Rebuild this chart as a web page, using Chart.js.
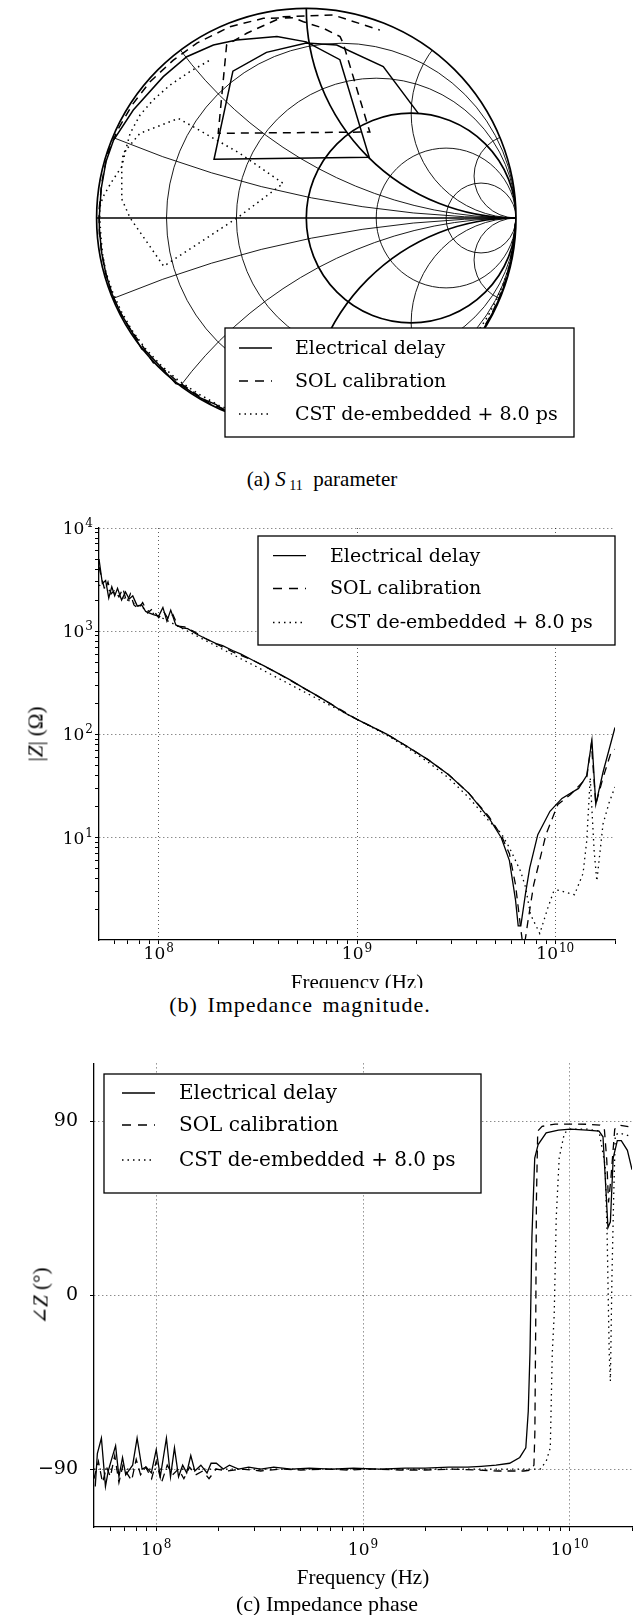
<!DOCTYPE html>
<html>
<head>
<meta charset="utf-8">
<script src="https://cdn.jsdelivr.net/npm/chart.js@4.4.1/dist/chart.umd.min.js"></script>
<style>
    body { margin: 0; background: #fff; }
    #page {
        position: relative; width: 638px; height: 1615px; overflow: hidden; background: #fff;
        font-family: 'Liberation Serif', 'DejaVu Serif', serif; color: #000;
    }
    canvas { position: absolute; left: 0; }
    .txt { position: absolute; white-space: nowrap; transform: translate(-50%, -50%); line-height: 1; }
    .cap { font-size: 22px; }
    .axt { font-size: 21px; }
    .rot { transform: translate(-50%, -50%) rotate(-90deg); }
    #clipB { position: absolute; left: 0; top: 960px; width: 638px; height: 28px; overflow: hidden; }
</style>
</head>
<body>
<div id="page">
    <canvas id="smith" width="638" height="460" style="top:0"></canvas>
    <canvas id="mag" width="638" height="488" style="top:500px"></canvas>
    <canvas id="phase" width="638" height="532" style="top:1040px"></canvas>

    <div class="txt cap" style="left:322px; top:479px; font-size:21px">(a) <i>S</i><span style="font-size:14px; position:relative; top:4px"> 11</span>&nbsp; parameter</div>

    <div class="txt axt rot" style="left:36px; top:734px">|<i>Z</i>| (Ω)</div>
    <div id="clipB"><div class="txt axt" style="left:357px; top:22px">Frequency (Hz)</div></div>
    <div class="txt cap" style="left:300px; top:1005px; word-spacing:3px; letter-spacing:1px">(b) Impedance magnitude.</div>

    <div class="txt axt rot" style="left:41px; top:1296px">∠<i>Z</i> (°)</div>
    <div class="txt axt" style="left:363px; top:1577px">Frequency (Hz)</div>
    <div class="txt cap" style="left:327px; top:1604px">(c) Impedance phase</div>
</div>

<script>
// ---- Data ----
const seriesNames = ['Electrical delay', 'SOL calibration', 'CST de-embedded + 8.0 ps'];

// Smith chart grid (normalised resistance / reactance values)
const smithResistances = [0.2, 0.5, 1, 2, 5];
const smithReactances = [0.2, 0.5, 1, 2, 5];

// S11 traces as reflection coefficient (real, imaginary)
const smithDelayRe = [0.998, 0.994, 0.996, 0.988, 0.991, 0.978, 0.958, 0.932, 0.895, 0.845, 0.785, 0.705, 0.605, 0.485, 0.345, 0.185, 0.02, -0.14, -0.29, -0.4, -0.43, -0.505, -0.6, -0.622, -0.685, -0.76, -0.785, -0.83, -0.885, -0.925, -0.955, -0.975, -0.985, -0.987,
    -0.978, -0.955, -0.919, -0.825, -0.682, -0.57, -0.443, -0.332, -0.14, 0.0, 0.16, 0.3, -0.44, -0.35, -0.19, 0.0, 0.145, 0.367, 0.534];
const smithDelayIm = [-0.02, -0.075, -0.045, -0.13, -0.1, -0.2, -0.28, -0.355, -0.44, -0.53, -0.615, -0.705, -0.79, -0.87, -0.935, -0.98, -0.995, -0.985, -0.952, -0.912, -0.89, -0.858, -0.795, -0.79, -0.72, -0.64, -0.625, -0.545, -0.455, -0.365, -0.27, -0.17, -0.075, 0.01,
    0.14, 0.27, 0.372, 0.515, 0.674, 0.769, 0.825, 0.849, 0.865, 0.84, 0.755, 0.29, 0.28, 0.7, 0.79, 0.835, 0.825, 0.722, 0.499];

const smithSolRe = [0.997, 0.99, 0.995, 0.983, 0.987, 0.972, 0.95, 0.922, 0.883, 0.83, 0.765, 0.685, 0.585, 0.465, 0.325, 0.165, 0.0, -0.16, -0.31, -0.42, -0.44, -0.525, -0.62, -0.705, -0.73, -0.775, -0.84, -0.893, -0.932, -0.96, -0.978, -0.987, -0.989,
    -0.975, -0.95, -0.9, -0.83, -0.745, -0.634, -0.52, -0.364, -0.205, -0.06, -0.014, 0.081, 0.161, 0.176, 0.288, 0.303, -0.42, -0.38, -0.284, -0.11, 0.129, 0.351];
const smithSolIm = [-0.025, -0.09, -0.055, -0.145, -0.115, -0.215, -0.3, -0.375, -0.46, -0.55, -0.635, -0.72, -0.8, -0.875, -0.935, -0.975, -0.99, -0.978, -0.943, -0.9, -0.9, -0.84, -0.775, -0.7, -0.69, -0.62, -0.53, -0.44, -0.35, -0.25, -0.15, -0.05, 0.03,
    0.17, 0.3, 0.42, 0.54, 0.65, 0.753, 0.835, 0.912, 0.952, 0.955, 0.936, 0.905, 0.865, 0.833, 0.459, 0.41, 0.404, 0.825, 0.881, 0.96, 0.968, 0.896];

const smithCstRe = [0.996, 0.992, 0.985, 0.97, 0.945, 0.91, 0.865, 0.81, 0.74, 0.655, 0.555, 0.44, 0.31, 0.165, 0.01, -0.15, -0.3, -0.415, -0.515, -0.61, -0.695, -0.77, -0.835, -0.885, -0.925, -0.955, -0.972, -0.98, -0.985,
    -0.985, -0.97, -0.93, -0.88, -0.873, -0.793, -0.713, -0.61, -0.46, -0.32, -0.11, -0.33, -0.68, -0.84, -0.88, -0.88, -0.857, -0.84, -0.793, -0.73, -0.65, -0.555, -0.459];
const smithCstIm = [-0.03, -0.08, -0.14, -0.22, -0.3, -0.385, -0.47, -0.555, -0.64, -0.725, -0.805, -0.875, -0.93, -0.97, -0.985, -0.975, -0.94, -0.895, -0.838, -0.775, -0.7, -0.62, -0.53, -0.44, -0.35, -0.26, -0.17, -0.08, 0.0,
    0.05, 0.1, 0.17, 0.245, 0.309, 0.404, 0.435, 0.475, 0.39, 0.31, 0.165, 0.0, -0.23, 0.0, 0.09, 0.245, 0.34, 0.404, 0.491, 0.563, 0.634, 0.698, 0.753];

// Impedance magnitude |Z| (ohm) vs frequency (Hz)
const magFreqDelay = [5.0e7, 5.2e7, 5.4e7, 5.6e7, 5.8e7, 6.0e7, 6.2e7, 6.5e7, 6.8e7, 7.1e7, 7.4e7, 7.8e7, 8.2e7, 8.6e7, 9.0e7, 9.4e7, 1.0e8, 1.05e8, 1.1e8, 1.15e8, 1.22e8, 1.31e8, 1.4e8, 1.55e8, 1.7e8, 1.95e8, 2.1e8, 2.36e8, 2.6e8, 3.0e8, 3.4e8, 4.0e8, 4.6e8, 5.5e8, 6.3e8, 7.3e8, 8.6e8,
    1.0e9, 1.42e9, 1.8e9, 2.28e9, 2.89e9, 3.66e9, 4.63e9, 5.34e9, 5.87e9, 6.3e9, 6.5e9, 6.7e9, 7.08e9, 7.43e9, 8.16e9, 9.4e9, 1.08e10, 1.31e10, 1.44e10, 1.53e10, 1.6e10, 1.74e10, 2.0e10];
const magDelay = [5000, 2900, 3100, 2100, 2700, 2200, 2600, 2000, 2400, 2050, 2200, 1750, 1800, 1550, 1500, 1450, 1400, 1700, 1250, 1600, 1150, 1080, 1060, 940, 860, 760, 725, 650, 600, 520, 462, 390, 338, 275, 238, 200, 163,
    140, 100, 76, 57, 41, 27, 15.5, 10, 6, 2.5, 1.4, 1.4, 2.9, 5.1, 10.7, 18, 24, 30, 40, 88, 21, 43, 117];

const magFreqSol = [5.0e7, 5.15e7, 5.35e7, 5.55e7, 5.75e7, 6.0e7, 6.3e7, 6.6e7, 6.9e7, 7.2e7, 7.5e7, 7.9e7, 8.3e7, 8.8e7, 9.3e7, 1.0e8, 1.06e8, 1.12e8, 1.18e8, 1.25e8, 1.35e8, 1.5e8, 1.7e8, 2.0e8, 2.5e8, 3.0e8, 4.0e8, 5.5e8, 7.3e8,
    1.0e9, 1.42e9, 1.8e9, 2.28e9, 2.89e9, 3.66e9, 4.63e9, 5.34e9, 5.87e9, 6.3e9, 6.7e9, 6.92e9, 7.26e9, 7.78e9, 8.97e9, 1.03e10, 1.19e10, 1.44e10, 1.52e10, 1.6e10, 1.74e10, 1.91e10, 2.0e10];
const magSol = [4200, 3300, 2500, 3000, 2300, 2500, 2150, 2600, 1900, 2300, 1800, 1650, 1900, 1500, 1650, 1350, 1550, 1300, 1450, 1120, 1100, 1000, 860, 735, 600, 520, 390, 275, 200,
    140, 100, 76, 57, 41, 27, 16, 10.5, 7, 3.5, 1.3, 0.8, 1.5, 3.5, 10.7, 21, 26, 38, 82, 21, 38, 67, 72];

const magFreqCst = [5.0e7, 7.0e7, 1.0e8, 1.4e8, 2.0e8, 3.0e8, 5.0e8, 7.0e8, 1.0e9, 1.42e9, 1.8e9, 2.28e9, 2.89e9, 3.66e9, 4.63e9, 5.34e9, 5.87e9, 6.69e9, 7.08e9, 7.5e9, 8.35e9, 9.18e9, 9.8e9,
    1.03e10, 1.25e10, 1.38e10, 1.44e10, 1.5e10, 1.57e10, 1.62e10, 1.74e10, 1.87e10, 2.0e10];
const magCst = [2800, 2000, 1400, 1000, 700, 470, 280, 200, 140, 98, 74, 54, 38, 24.5, 14.5, 11, 8, 4.7, 3.3, 1.8, 1.18, 2.1, 3.0,
    3.1, 2.8, 4.5, 9.3, 38, 7.4, 3.8, 13.5, 22, 31];

// Impedance phase (degrees) vs frequency (Hz)
const phaseFreqDelay = [5.07e7, 5.19e7, 5.43e7, 5.68e7, 5.86e7, 6.08e7, 6.36e7, 6.6e7, 6.87e7, 7.12e7, 7.45e7, 7.69e7, 8.08e7, 8.54e7, 8.93e7, 9.47e7, 1.0e8, 1.046e8, 1.12e8, 1.172e8, 1.225e8, 1.282e8, 1.342e8, 1.404e8, 1.469e8, 1.537e8, 1.644e8, 1.76e8, 1.842e8, 1.953e8,
    2.11e8, 2.26e8, 2.5e8, 2.8e8, 3.2e8, 3.7e8, 4.5e8, 5.5e8, 7.0e8, 9.0e8, 1.2e9, 1.6e9, 2.0e9, 2.6e9, 3.2e9, 3.73e9, 4.4e9, 5.12e9, 5.73e9, 6.13e9, 6.3e9, 6.42e9, 6.56e9, 6.77e9, 7.03e9, 7.69e9, 8.81e9,
    1.009e10, 1.21e10, 1.385e10, 1.448e10, 1.495e10, 1.53e10, 1.572e10, 1.622e10, 1.698e10, 1.775e10, 1.9e10, 2.0e10];
const phaseDelay = [-99, -82, -74, -99, -91, -85, -78, -94, -84, -93, -90, -88, -74, -90, -89, -92, -80, -94, -74, -94, -79, -94, -88, -92, -83, -91, -88, -92, -87, -87,
    -90, -88, -90, -89, -90, -89, -90, -89.5, -90, -89.5, -90, -89.5, -89.5, -89, -89, -88.6, -88, -87, -84, -79, -60, -30, 30, 71, 78, 84, 85.5,
    86, 85.5, 85, 82, 55, 35, 38, 71, 80, 80, 75, 65];

const phaseFreqSol = [5.0e7, 5.25e7, 5.5e7, 5.75e7, 6.0e7, 6.3e7, 6.6e7, 6.9e7, 7.2e7, 7.6e7, 8.0e7, 8.4e7, 8.9e7, 9.5e7, 1.0e8, 1.06e8, 1.13e8, 1.2e8, 1.28e8, 1.36e8, 1.45e8, 1.55e8, 1.68e8, 1.8e8, 1.95e8,
    2.2e8, 2.6e8, 3.2e8, 4.0e8, 5.0e8, 6.5e8, 8.5e8, 1.1e9, 1.5e9, 2.0e9, 2.7e9, 3.5e9, 4.5e9, 5.3e9, 6.0e9, 6.5e9, 6.71e9, 6.78e9, 6.85e9, 6.9e9, 7.0e9, 7.35e9, 8.5e9,
    1.0e10, 1.2e10, 1.4e10, 1.47e10, 1.51e10, 1.54e10, 1.58e10, 1.65e10, 1.75e10, 2.0e10];
const phaseSol = [-95, -86, -97, -89, -94, -83, -97, -88, -92, -96, -85, -93, -89, -95, -86, -97, -88, -93, -90, -95, -89, -93, -91, -95, -90,
    -91, -90, -91, -90, -90.5, -90, -90.5, -90, -90.5, -90.5, -90, -90.5, -91, -91, -91, -90.5, -88, -71, -10, 50, 85, 87.4, 88.6,
    88.6, 88.5, 88, 86, 70, 48, 60, 86, 88, 87];

const phaseFreqCst = [5.0e7, 1.0e8, 5.0e8, 1.0e9, 3.0e9, 6.0e9, 7.2e9, 7.69e9, 8.05e9, 8.23e9, 8.41e9, 8.6e9, 8.89e9, 9.42e9,
    1.009e10, 1.21e10, 1.385e10, 1.483e10, 1.517e10, 1.552e10, 1.572e10, 1.6e10, 1.63e10, 1.66e10, 1.738e10, 2.0e10];
const phaseCst = [-90, -90, -90, -90, -90, -90, -90, -86, -79, -30, -10, 40, 71, 84,
    86, 86, 85, 67, 30, -30, -44.5, 10, 50, 83, 84, 82];

// Axis ticks and labels (log axes are labelled 10^exponent)
const freqTicks = [1e8, 1e9, 1e10];
const freqTickExp = ['8', '9', '10'];
const magTicks = [10, 100, 1000, 10000];
const magTickExp = ['1', '2', '3', '4'];
const phaseTicks = [-90, 0, 90];
const phaseTickLabels = ['−90', '0', '90'];

// ---- Styles ----
const traceDash = [[], [8, 6], [1.5, 4]];
const TICK_FONT = "'DejaVu Serif', serif";
const LEGEND_FONT = "'DejaVu Serif', serif";

function zip(xs, ys) {
    const n = Math.min(xs.length, ys.length);
    const out = [];
    for (let i = 0; i < n; i++) out.push({ x: xs[i], y: ys[i] });
    return out;
}

function trace(points, i, width) {
    return {
        data: points,
        showLine: true,
        pointRadius: 0,
        borderColor: '#000',
        borderWidth: width,
        borderDash: traceDash[i],
        fill: false,
        tension: 0
    };
}

// legend box drawn inside the plot, in canvas coordinates
function boxLegend(box) {
    return {
        id: 'boxLegend',
        afterDraw(chart) {
            const ctx = chart.ctx;
            ctx.save();
            ctx.fillStyle = '#fff';
            ctx.fillRect(box.x, box.y, box.w, box.h);
            ctx.strokeStyle = '#000';
            ctx.lineWidth = 1.3;
            ctx.strokeRect(box.x, box.y, box.w, box.h);
            ctx.font = box.size + 'px ' + LEGEND_FONT;
            ctx.textBaseline = 'middle';
            ctx.fillStyle = '#000';
            seriesNames.forEach((name, i) => {
                const cy = box.y + box.rows[i];
                ctx.setLineDash(i === 1 ? [9, 7] : traceDash[i]);
                ctx.lineWidth = 1.4;
                ctx.beginPath();
                ctx.moveTo(box.x + box.l1, cy);
                ctx.lineTo(box.x + box.l2, cy);
                ctx.stroke();
                ctx.setLineDash([]);
                ctx.fillText(name, box.x + box.tx, cy + 1);
            });
            ctx.restore();
        }
    };
}

// "10" with a raised exponent, placed at the scale's tick positions
function powerLabels(scaleId, ticks, exps, place) {
    return {
        id: 'powerLabels_' + scaleId,
        afterDraw(chart) {
            const s = chart.scales[scaleId];
            const ctx = chart.ctx;
            ctx.save();
            ctx.fillStyle = '#000';
            ctx.textBaseline = 'alphabetic';
            ctx.textAlign = 'left';
            ticks.forEach((v, i) => {
                const p = s.getPixelForValue(v);
                ctx.font = '17px ' + TICK_FONT;
                const wb = ctx.measureText('10').width;
                ctx.font = '12px ' + TICK_FONT;
                const we = ctx.measureText(exps[i]).width;
                const w = wb + 1 + we;
                let left, mid;
                if (place.horizontal) { left = p - w / 2; mid = place.y; }
                else { left = place.right - w; mid = p; }
                ctx.font = '17px ' + TICK_FONT;
                ctx.fillText('10', left, mid + 6);
                ctx.font = '12px ' + TICK_FONT;
                ctx.fillText(exps[i], left + wb + 1, mid - 1);
            });
            ctx.restore();
        }
    };
}

// Smith chart grid: constant resistance circles and reactance arcs
const smithGrid = {
    id: 'smithGrid',
    beforeDatasetsDraw(chart) {
        const { ctx, scales: { x, y } } = chart;
        const px = v => x.getPixelForValue(v);
        const py = v => y.getPixelForValue(v);
        const unit = px(1) - px(0);
        ctx.save();
        ctx.beginPath();
        ctx.arc(px(0), py(0), unit, 0, Math.PI * 2);
        ctx.clip();
        ctx.strokeStyle = '#000';
        smithResistances.forEach(r => {
            ctx.lineWidth = r === 1 ? 1.7 : 0.9;
            ctx.beginPath();
            ctx.arc(px(r / (1 + r)), py(0), unit / (1 + r), 0, Math.PI * 2);
            ctx.stroke();
        });
        smithReactances.forEach(xv => {
            [xv, -xv].forEach(s => {
                ctx.lineWidth = xv === 1 ? 1.7 : 0.9;
                ctx.beginPath();
                ctx.arc(px(1), py(1 / s), unit / xv, 0, Math.PI * 2);
                ctx.stroke();
            });
        });
        ctx.lineWidth = 1.7;
        ctx.beginPath();
        ctx.moveTo(px(-1), py(0));
        ctx.lineTo(px(1), py(0));
        ctx.stroke();
        ctx.restore();

        ctx.save();
        ctx.strokeStyle = '#000';
        ctx.lineWidth = 1.7;
        ctx.beginPath();
        ctx.arc(px(0), py(0), unit, 0, Math.PI * 2);
        ctx.stroke();
        ctx.restore();
    }
};

function decadeTicks(min, max) {
    const out = [];
    for (let e = Math.floor(Math.log10(min)); e <= Math.ceil(Math.log10(max)); e++) {
        for (let m = 1; m <= 9; m++) {
            const v = Number((m * Math.pow(10, e)).toPrecision(6));
            if (v >= min * 0.999 && v <= max * 1.001) out.push(v);
        }
    }
    return out;
}

function isIn(list, v) {
    return list.some(m => Math.abs(m - v) <= Math.abs(m) * 1e-6 + 1e-9);
}

function labelFor(list, labels) {
    return function(value) {
        const i = list.findIndex(m => Math.abs(m - value) <= Math.abs(m) * 1e-6 + 1e-9);
        return i >= 0 ? labels[i] : '';
    };
}

function axisStyle(majors, labels, pad, size) {
    return {
        grid: {
            color: c => (c.tick && isIn(majors, c.tick.value)) ? 'rgba(0,0,0,0.65)' : 'rgba(0,0,0,0)',
            lineWidth: 1,
            tickColor: '#000',
            tickLength: 4,
            tickWidth: 1
        },
        border: { display: true, color: '#000', width: 1.3, dash: [1, 3] },
        ticks: {
            display: labels !== null,
            autoSkip: false, maxRotation: 0, minRotation: 0,
            padding: pad,
            color: '#000',
            font: { family: TICK_FONT, size: size },
            callback: labels ? labelFor(majors, labels) : () => ''
        }
    };
}

function freqAxis(height) {
    return Object.assign({
        type: 'logarithmic',
        min: 5e7,
        max: 2e10,
        afterBuildTicks: s => { s.ticks = decadeTicks(6e7, 2e10).map(v => ({ value: v })); },
        afterFit: s => { s.height = height; }
    }, axisStyle(freqTicks, null, 0, 18));
}

const baseOptions = {
    responsive: false,
    animation: false,
    events: [],
    plugins: { legend: { display: false }, tooltip: { enabled: false }, title: { display: false } }
};

// (a) Smith chart
new Chart(document.getElementById('smith'), {
    type: 'scatter',
    data: {
        datasets: [
            trace(zip(smithDelayRe, smithDelayIm), 0, 1.5),
            trace(zip(smithSolRe, smithSolIm), 1, 1.5),
            trace(zip(smithCstRe, smithCstIm), 2, 1.5)
        ]
    },
    options: Object.assign({}, baseOptions, {
        layout: { padding: { left: 96.6, right: 122, top: 8.3, bottom: 32.3 } },
        scales: {
            x: { type: 'linear', min: -1, max: 1, display: false },
            y: { type: 'linear', min: -1, max: 1, display: false }
        }
    }),
    plugins: [smithGrid, boxLegend({ x: 225, y: 328, w: 349, h: 109, rows: [20, 53, 86], l1: 14, l2: 47, tx: 70, size: 19 })]
});

// (b) Impedance magnitude
new Chart(document.getElementById('mag'), {
    type: 'scatter',
    data: {
        datasets: [
            trace(zip(magFreqDelay, magDelay), 0, 1.3),
            trace(zip(magFreqSol, magSol), 1, 1.3),
            trace(zip(magFreqCst, magCst), 2, 1.3)
        ]
    },
    options: Object.assign({}, baseOptions, {
        layout: { padding: { left: 0, right: 23, top: 28, bottom: 0 } },
        scales: {
            x: freqAxis(48),
            y: Object.assign({
                type: 'logarithmic',
                min: 1.02,
                max: 10000,
                afterBuildTicks: s => { s.ticks = decadeTicks(2, 10000).map(v => ({ value: v })); },
                afterFit: s => { s.width = 99; }
            }, axisStyle(magTicks, null, 1, 18))
        }
    }),
    plugins: [
        powerLabels('x', freqTicks, freqTickExp, { horizontal: true, y: 453 }),
        powerLabels('y', magTicks, magTickExp, { horizontal: false, right: 93 }),
        boxLegend({ x: 258, y: 36, w: 357, h: 109, rows: [19.6, 52.5, 86.5], l1: 15, l2: 48, tx: 72, size: 19 })
    ]
});

// (c) Impedance phase
new Chart(document.getElementById('phase'), {
    type: 'scatter',
    data: {
        datasets: [
            trace(zip(phaseFreqDelay, phaseDelay), 0, 1.3),
            trace(zip(phaseFreqSol, phaseSol), 1, 1.3),
            trace(zip(phaseFreqCst, phaseCst), 2, 1.3)
        ]
    },
    options: Object.assign({}, baseOptions, {
        layout: { padding: { left: 0, right: 6, top: 23, bottom: 0 } },
        scales: {
            x: freqAxis(45),
            y: Object.assign({
                type: 'linear',
                min: -120,
                max: 120,
                afterBuildTicks: s => { s.ticks = phaseTicks.map(v => ({ value: v })); },
                afterFit: s => { s.width = 94; }
            }, axisStyle(phaseTicks, phaseTickLabels, 12, 19))
        }
    }),
    plugins: [
        powerLabels('x', freqTicks, freqTickExp, { horizontal: true, y: 509 }),
        boxLegend({ x: 104, y: 34, w: 377, h: 119, rows: [19, 51, 86], l1: 18, l2: 51, tx: 75, size: 20 })
    ]
});
</script>
</body>
</html>
